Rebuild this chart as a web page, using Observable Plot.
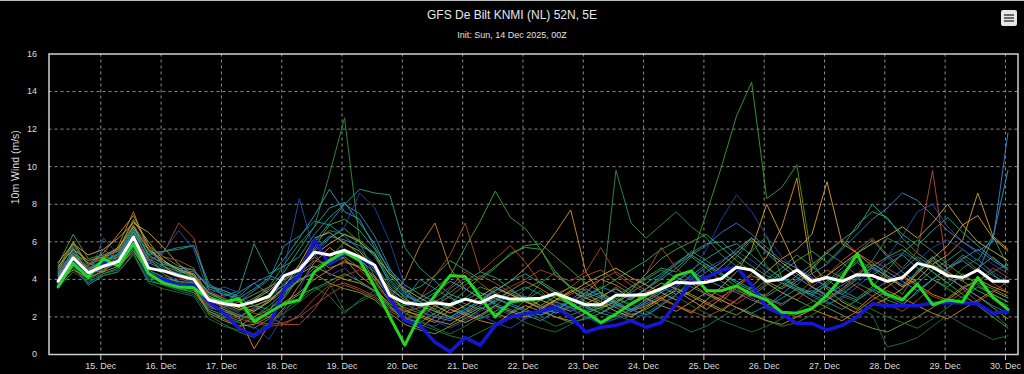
<!DOCTYPE html>
<html><head><meta charset="utf-8">
<script src="https://cdn.jsdelivr.net/npm/d3@7"></script>
<script src="https://cdn.jsdelivr.net/npm/@observablehq/plot@0.6"></script>
<style>
html,body{margin:0;padding:0;background:#000;}
#wrap{position:relative;width:1024px;height:374px;overflow:hidden;background:#000;font-family:"Liberation Sans",Arial,sans-serif;}
#topline{position:absolute;left:0;top:0;width:1024px;height:1px;background:#bbb;}
#title{position:absolute;left:0;width:1024px;top:8px;text-align:center;color:#e8e8e8;font-size:12px;line-height:14px;}
#subtitle{position:absolute;left:0;width:1024px;top:30px;text-align:center;color:#e0e0e0;font-size:9px;line-height:11px;}
#menu{position:absolute;left:1001px;top:10px;width:16px;height:16px;background:#e6e6e6;border-radius:2px;}
#menu span{position:absolute;left:3px;width:10px;height:2px;background:#6a6a6a;}
#chart{position:absolute;left:0;top:44px;}
</style></head>
<body>
<div id="wrap">
  <div id="topline"></div>
  <div id="title">GFS De Bilt KNMI (NL) 52N, 5E</div>
  <div id="subtitle">Init: Sun, 14 Dec 2025, 00Z</div>
  <div id="menu"><span style="top:4px"></span><span style="top:7px"></span><span style="top:10px"></span></div>
  <div id="chart"></div>
</div>
<script>
// ---- data ----
const initUTC = Date.UTC(2025, 11, 14, 0);
const displayOffsetHours = 1; // chart shown in CET
const leadHours = d3.range(6, 390, 6); // 6h steps, +6h .. +384h (64 steps)
const dayLabels = [15,16,17,18,19,20,21,22,23,24,25,26,27,28,29,30];
const yTicks = [0,2,4,6,8,10,12,14,16];
const yLabel = "10m Wind (m/s)";

const ensMean = [3.9,5.15,4.35,4.7,4.95,6.25,4.6,4.45,4.2,4.0, 2.9,2.7,2.6,2.8,3.1,4.2,4.5,5.45,5.3,5.55,
  5.2,4.75,3.15,2.75,2.65,2.75,2.65,2.95,2.75,3.15, 2.95,2.95,3.0,3.25,2.95,2.65,2.65,3.15,3.15,3.2,
  3.5,3.85,3.8,3.85,4.05,4.65,4.5,3.9,4.0,4.5, 3.9,4.1,3.9,4.25,4.2,3.9,4.1,4.85,4.65,4.2, 4.1,4.5,3.9,3.9];
const control = [3.6,4.85,4.1,5.1,4.7,5.9,4.3,3.8,3.6,3.55, 2.95,2.8,2.95,1.75,2.25,2.7,2.9,4.4,5.0,5.45,
  5.0,3.6,2.0,0.5,2.1,3.15,4.2,4.15,3.05,2.0, 2.8,2.9,2.95,3.25,2.7,2.25,1.7,2.15,2.7,3.15,
  3.5,4.2,4.45,3.4,3.4,3.65,3.2,2.9,2.25,2.2, 2.45,3.15,4.1,5.35,3.75,3.2,2.9,3.75,2.65,2.9, 2.8,4.1,3.05,2.4];
const operational = [3.8,4.9,4.2,4.9,4.8,6.0,4.2,4.0,3.7,3.7, 2.8,2.2,1.4,1.0,1.5,3.5,4.2,6.1,4.8,5.4,
  5.1,4.7,3.0,1.8,1.55,0.65,0.15,0.9,0.5,1.55, 2.0,2.15,2.3,2.5,2.0,1.2,1.45,1.55,1.8,1.45,
  1.7,2.7,3.9,4.1,4.5,4.65,3.7,2.5,2.15,1.65, 1.65,1.3,1.55,2.0,2.7,2.6,2.6,2.6,2.75,2.75, 2.75,2.7,2.2,2.3];

const member01 = [4.2,5.6,4.6,5.0,5.3,6.6,5.0,4.6,4.3,4.1, 3.1,2.6,2.3,2.9,3.6,4.8,5.9,6.8,9.6,12.6, 6.0,4.1,3.4,2.2,1.9,2.6,3.1,2.4,2.0,2.6, 3.2,2.9,3.4,2.6,2.1,2.4,3.0,3.6,2.9,3.5, 4.1,4.8,5.5,5.0,4.4,5.2,6.1,4.7,4.0,3.6, 3.1,3.8,4.4,5.0,4.6,3.9,3.2,4.5,5.2,4.1, 3.6,3.9,4.4,4.8];
const member02 = [3.8,4.9,4.2,4.6,4.8,6.0,4.4,4.0,3.9,3.6, 2.6,2.4,2.0,2.5,3.0,3.8,4.3,5.0,4.8,5.2, 4.6,4.0,2.8,2.5,2.2,2.9,2.5,3.0,3.6,3.3, 2.8,3.5,3.9,3.4,3.0,2.7,2.4,2.9,3.6,4.1, 4.6,4.4,5.2,7.5,10.0,12.7,14.5,8.3,8.9,10.1, 5.0,3.6,3.2,3.8,3.4,2.9,2.6,3.4,4.0,3.5, 3.0,3.6,3.2,2.8];
const member03 = [4.4,5.9,4.7,5.2,5.5,6.9,5.2,4.9,4.4,4.3, 3.3,3.0,2.5,2.0,2.6,3.3,4.0,6.0,6.6,6.4, 6.1,5.4,3.7,3.1,2.8,2.4,3.5,4.1,3.3,2.6, 2.2,2.9,3.8,4.4,3.6,3.4,2.6,9.8,7.0,6.2, 6.9,7.6,6.8,6.2,5.3,4.7,5.5,6.3,4.1,3.7, 4.5,5.4,4.9,4.2,5.0,6.2,5.8,5.1,4.4,3.8, 4.6,5.1,4.3,3.6];
const member04 = [3.7,5.0,4.0,4.5,4.9,5.8,4.1,3.9,3.5,3.4, 2.4,2.1,1.8,2.3,2.9,3.6,3.9,4.6,5.1,6.0, 5.3,3.9,2.9,2.6,3.0,3.5,4.2,5.7,7.1,8.7, 7.3,6.7,5.6,4.4,3.5,2.8,2.5,3.0,2.6,3.1, 3.6,3.2,4.0,4.7,4.2,3.6,3.3,4.0,4.6,5.3, 4.7,4.0,3.4,3.0,3.6,4.5,5.4,6.1,5.5,4.8, 4.2,3.8,3.5,3.1];
const member05 = [4.5,5.4,4.9,4.4,5.8,7.6,5.5,4.9,4.6,4.2, 2.9,2.5,2.8,3.2,3.6,4.0,4.5,5.2,4.6,4.9, 4.7,4.2,3.0,4.0,5.8,7.0,4.6,3.5,3.0,2.8, 3.4,3.9,3.5,3.0,2.7,3.3,4.0,3.7,3.2,2.9, 3.5,4.1,3.8,3.2,2.8,3.6,4.2,3.9,3.5,4.0, 4.6,5.5,6.1,5.4,4.9,4.2,3.6,4.4,5.0,4.4, 3.9,4.6,5.2,4.5];
const member06 = [4.1,5.1,4.5,4.9,5.2,6.3,5.0,5.4,7.0,6.2, 3.4,3.0,2.6,2.2,2.0,1.6,1.6,2.4,3.6,3.8, 3.5,3.1,2.4,2.0,3.0,4.2,5.3,7.0,4.4,5.1, 5.8,4.9,3.8,3.2,3.6,4.2,4.5,3.9,3.4,4.3, 5.7,4.6,3.9,3.5,3.1,2.7,3.2,3.8,3.3,2.9, 3.6,4.2,5.0,5.6,6.2,5.3,4.6,5.5,9.8,4.3, 3.5,2.8,3.3,3.9];
const member07 = [4.6,6.0,4.8,5.4,6.4,7.4,5.8,4.7,4.2,3.8, 2.7,2.3,2.0,0.3,1.6,2.5,3.7,4.9,5.7,5.1, 4.2,3.6,2.6,1.8,1.4,2.0,2.6,2.2,2.8,3.4, 3.9,4.6,5.4,6.5,7.7,4.4,3.2,2.7,2.3,2.6, 3.0,3.4,2.9,2.4,3.0,3.7,4.3,5.2,6.8,9.4, 4.3,3.5,2.8,2.4,3.1,3.6,4.2,3.7,3.2,2.9, 3.5,4.0,3.6,3.3];
const member08 = [4.3,5.5,4.4,5.1,5.6,7.1,6.0,5.0,4.5,4.3, 3.0,2.7,2.4,2.6,2.9,3.5,4.3,4.7,4.3,4.0, 3.8,3.4,2.7,2.3,2.1,1.8,1.6,2.1,2.5,2.2, 1.9,2.4,2.9,2.6,2.3,2.7,3.1,3.5,3.0,3.3, 3.8,3.5,3.1,2.7,2.3,2.9,3.6,4.4,5.1,5.6, 6.4,9.2,5.9,5.4,4.7,4.1,3.6,4.0,4.8,5.3, 6.1,8.6,6.3,5.6];
const member09 = [4.0,5.7,4.3,4.8,5.1,6.6,5.4,5.5,5.6,5.8, 3.8,3.1,3.4,5.9,4.3,4.7,5.2,6.4,7.3,8.0, 8.8,8.6,8.5,5.7,4.6,3.9,3.2,2.9,3.3,3.0, 2.6,2.3,2.1,2.5,2.9,2.6,2.2,2.0,2.4,2.9, 3.4,3.9,4.5,5.1,5.6,5.9,5.3,4.6,4.1,3.6, 3.3,3.9,4.6,5.4,6.1,5.2,4.4,3.8,4.5,5.0, 5.6,5.0,6.3,4.7];
const member10 = [4.4,5.3,4.6,4.9,5.4,6.8,5.3,4.8,4.6,4.5, 3.5,3.2,3.0,3.5,4.1,5.1,6.2,7.4,8.8,7.6, 7.2,5.7,4.5,3.7,3.2,2.8,2.4,2.2,1.9,2.3, 2.7,3.1,2.6,2.2,2.5,3.0,3.3,2.8,2.4,2.7, 3.1,3.6,4.2,4.8,4.3,3.9,3.5,3.0,2.7,3.2, 3.4,3.0,3.5,4.1,4.6,4.2,3.7,4.4,5.2,4.6, 5.0,4.4,6.2,9.8];
const member11 = [4.3,5.5,4.1,6.2,5.3,6.0,4.8,5.5,6.6,5.6, 3.2,3.6,3.3,2.6,2.1,4.6,8.3,5.4,4.2,4.6, 3.9,3.3,2.5,2.0,1.7,1.5,2.0,2.5,2.1,1.7, 1.4,1.9,2.4,2.8,2.5,2.0,1.7,1.9,2.3,2.8, 3.3,3.7,4.1,4.6,5.0,5.5,5.0,4.4,3.9,3.5, 3.1,2.7,3.0,3.6,4.3,5.2,6.3,7.6,8.0,6.8, 6.0,5.4,4.8,4.3];
const member12 = [3.9,5.0,4.0,4.6,4.8,5.9,4.4,4.2,4.0,3.9, 2.8,2.6,2.2,1.5,0.8,2.2,3.4,5.2,6.2,6.8, 8.6,7.8,6.0,3.6,2.4,1.8,1.4,1.8,2.3,2.6, 2.2,1.9,2.3,2.7,2.4,2.0,1.6,1.9,2.2,2.0, 2.6,3.4,4.3,5.6,7.2,8.5,7.6,6.3,5.2,4.5, 4.0,3.6,3.3,3.8,4.5,5.1,5.4,5.0,5.7,6.1, 5.6,5.0,4.4,3.9];
const member13 = [3.6,4.8,3.8,4.3,4.6,5.6,4.2,3.9,3.7,3.5, 2.5,2.3,2.0,2.4,2.8,3.4,3.9,4.4,5.0,5.6, 5.0,4.4,3.4,2.7,2.3,2.0,1.8,2.2,2.6,3.0, 2.7,2.4,2.1,2.4,2.8,3.3,3.0,2.6,2.3,2.8, 3.3,3.9,4.4,4.0,3.6,3.3,2.9,2.6,3.2,3.9, 4.3,4.8,5.6,6.4,7.2,7.8,8.6,8.2,7.4,6.6, 6.0,5.5,6.0,11.8];
const member14 = [4.8,6.4,5.1,5.3,5.6,7.2,5.8,5.2,4.7,4.5, 3.6,3.4,3.0,2.6,2.4,3.0,4.1,5.7,6.9,7.2, 6.6,5.6,4.2,3.3,3.6,4.2,5.0,4.5,4.0,4.6, 5.4,5.7,5.6,4.2,3.6,3.1,3.5,4.0,4.5,5.0, 5.6,6.0,5.2,4.6,3.9,3.4,3.1,3.7,4.4,5.0, 5.5,4.9,5.7,6.9,7.6,7.3,6.2,5.4,4.8,4.3, 3.9,3.4,3.0,2.6];
const member15 = [4.1,5.3,4.5,4.4,5.1,6.1,4.7,4.3,3.8,3.6, 2.3,1.9,1.5,2.0,2.4,3.2,4.0,4.3,3.8,3.5, 3.3,2.9,2.2,1.6,1.3,1.1,1.5,1.9,2.4,2.9, 3.4,3.0,2.6,3.1,3.6,3.2,2.8,2.5,2.1,2.4, 2.9,3.5,3.2,2.8,2.4,2.1,2.6,3.2,3.8,3.4, 2.9,2.5,2.1,1.7,1.4,1.2,1.6,2.0,2.5,3.0, 3.6,3.1,2.5,1.9];
const member16 = [3.7,4.7,3.7,4.2,4.4,5.4,3.9,3.7,3.5,3.3, 2.3,2.0,1.7,1.4,1.9,3.1,4.4,5.5,6.2,6.7, 6.0,5.2,3.9,3.0,2.5,2.8,3.3,3.9,4.4,4.1, 3.5,2.9,2.4,2.0,1.7,1.9,2.2,2.7,3.3,3.8, 4.3,4.9,5.4,5.9,6.0,5.3,4.7,4.2,3.8,3.5, 3.2,3.7,4.3,4.9,4.2,4.8,5.3,4.6,4.0,3.6, 4.3,3.7,3.2,2.8];
const member17 = [4.9,5.9,5.3,5.6,6.2,7.0,6.5,5.7,4.8,4.2, 3.3,2.9,2.6,2.3,2.8,3.6,4.8,6.2,6.5,5.9, 5.5,4.5,3.5,2.9,2.6,2.3,2.0,1.7,2.1,2.6, 2.3,2.0,2.4,2.9,3.4,3.0,2.7,2.3,2.0,2.5, 3.0,2.6,2.2,2.9,3.6,4.4,5.6,8.0,6.3,4.6, 3.6,3.1,2.6,2.2,2.6,3.0,3.5,4.3,5.1,5.8, 6.9,7.4,6.2,5.5];
const member18 = [4.0,5.2,4.6,4.5,5.3,6.5,5.1,4.4,4.1,3.7, 2.6,2.2,1.9,1.7,1.5,1.6,2.1,3.0,3.7,4.2, 4.5,3.8,2.8,2.3,2.5,3.0,3.6,4.4,3.8,3.2, 3.6,4.0,4.5,4.2,3.9,4.4,5.7,4.3,3.7,3.3, 2.9,2.6,2.3,2.7,3.1,3.5,3.0,2.6,2.3,2.0, 2.4,2.9,3.5,4.3,5.0,4.6,4.1,3.6,3.1,2.8, 3.3,3.9,4.6,4.1];
const member19 = [4.2,5.1,4.4,5.6,5.0,6.4,5.6,4.9,4.5,4.4, 3.7,3.4,3.1,3.8,4.2,3.9,4.6,6.0,7.0,8.0, 7.5,6.3,4.6,3.3,2.6,2.1,1.9,2.3,2.9,3.5, 3.2,2.8,2.5,2.2,2.6,3.1,3.6,3.3,2.9,3.5, 4.2,4.8,5.3,5.8,6.5,7.0,6.4,5.7,5.0,4.6, 4.1,3.6,3.2,2.9,3.4,3.9,4.5,5.2,4.7,4.1, 3.6,3.1,2.6,2.2];
const member20 = [3.8,4.6,4.0,4.3,4.5,5.7,4.0,3.7,3.4,3.2, 2.1,1.6,1.2,0.9,1.5,2.4,2.9,3.6,3.1,2.2, 2.9,3.4,2.6,2.0,1.6,1.3,1.0,0.8,1.2,1.6, 2.0,2.3,1.9,1.5,1.8,2.2,2.6,3.0,2.7,2.3, 1.9,1.6,1.2,1.5,2.0,2.5,2.2,1.8,1.5,1.7, 2.1,2.6,3.1,2.8,2.4,2.0,1.7,1.4,1.9,2.5, 3.1,2.7,2.2,1.5];
const member21 = [4.5,5.8,4.8,5.1,5.3,6.7,5.3,5.5,5.7,5.8, 3.6,3.3,2.8,3.4,4.0,5.8,6.3,7.1,6.9,6.3, 5.6,4.8,3.6,2.9,4.0,3.5,3.0,2.7,2.4,2.8, 3.2,3.6,3.2,2.8,2.5,2.3,2.7,3.1,3.6,4.0, 4.5,4.1,3.6,3.2,2.9,2.5,2.2,2.6,3.0,3.5, 3.2,2.8,2.4,2.9,3.5,3.1,2.7,3.3,4.0,4.6, 5.3,4.8,4.2,3.8];
const member22 = [4.0,4.9,4.2,4.8,5.0,6.1,4.5,4.1,3.9,3.8, 2.7,2.4,2.1,1.9,2.2,2.7,3.2,3.5,3.9,4.3, 3.9,3.4,2.5,1.9,1.7,2.2,2.7,3.4,4.1,4.7, 5.3,5.8,5.9,5.2,4.5,3.8,3.3,2.8,3.4,4.3, 5.1,5.6,6.0,6.4,5.7,5.0,4.4,3.8,3.3,2.9, 2.5,2.9,3.4,4.0,4.7,5.2,5.6,5.0,4.4,3.8, 3.2,2.6,2.0,1.4];
const member23 = [3.9,4.5,4.1,4.4,4.7,5.5,4.3,3.9,3.7,3.5, 2.2,1.8,1.5,1.6,2.0,2.8,3.3,4.0,4.5,5.0, 4.6,4.1,3.1,2.4,2.0,1.7,2.4,2.1,1.8,1.6, 2.2,2.6,2.3,2.0,1.8,2.2,2.5,2.8,3.2,3.0, 2.6,2.3,2.8,3.3,2.9,2.5,2.1,1.8,1.6,2.0, 2.4,2.1,1.8,2.3,2.9,3.4,3.0,2.6,2.2,1.9, 2.4,2.9,3.4,3.0];
const member24 = [4.3,5.2,4.2,4.8,5.0,6.2,4.9,4.5,4.3,4.0, 3.0,2.7,3.3,3.8,3.2,3.7,4.5,5.6,6.3,6.1, 5.8,5.4,4.0,3.2,2.8,3.3,3.9,3.5,3.0,2.7, 2.4,2.1,1.8,2.3,2.9,3.5,3.1,2.7,2.4,2.1, 2.6,3.2,3.8,4.4,4.9,5.6,6.2,5.4,4.7,4.1, 3.6,3.2,3.7,4.2,4.8,4.4,3.9,3.4,4.0,4.6, 5.1,5.6,5.0,4.5];
const member25 = [3.6,4.4,3.9,4.2,4.4,5.3,3.8,3.5,3.3,3.1, 1.9,1.5,1.3,1.1,1.7,2.2,2.8,3.4,3.8,2.3, 2.8,3.2,2.7,2.2,1.8,1.4,1.1,1.5,2.0,2.5, 2.1,1.7,1.4,1.2,1.6,2.0,2.4,2.1,1.8,2.2, 2.7,3.1,2.6,2.2,1.8,1.5,1.2,1.5,1.9,2.3, 2.8,3.3,2.9,2.5,2.1,0.4,0.6,0.9,1.5,2.1, 1.6,1.2,0.8,1.0];
const member26 = [4.7,5.6,5.0,5.2,5.7,6.8,5.6,5.0,4.5,4.1, 3.1,2.8,2.5,2.9,3.4,4.1,4.7,5.3,5.9,6.4, 6.0,5.3,4.3,3.5,3.0,2.6,2.2,2.6,3.1,3.6, 3.2,2.8,2.5,2.9,3.3,3.8,4.2,4.6,4.1,3.7, 3.3,2.9,3.4,4.0,4.7,5.4,6.2,5.5,4.9,4.3, 3.8,4.2,4.8,5.4,5.9,6.3,6.8,6.2,7.0,8.0, 6.9,6.0,5.5,5.0];
const member27 = [4.2,5.4,4.5,5.0,5.2,6.5,5.1,4.7,4.4,4.2, 3.2,2.9,2.6,3.0,3.5,4.4,5.6,6.8,7.8,8.1, 7.0,5.9,4.4,3.4,2.8,2.4,2.0,2.4,2.9,3.4, 3.9,4.3,3.8,3.3,2.9,2.5,2.2,2.6,3.0,3.5, 4.0,4.6,5.3,4.8,4.3,3.8,3.4,3.1,3.6,4.2, 4.8,5.4,6.1,6.7,8.0,7.2,6.4,5.8,6.6,7.3, 6.5,5.8,5.1,4.6];
const member28 = [4.4,5.0,4.7,5.3,5.5,6.9,5.7,5.2,5.0,4.6, 3.0,2.5,2.1,1.8,1.6,1.7,2.0,2.6,3.2,3.7, 3.4,3.0,2.3,1.9,2.1,2.6,3.1,3.7,4.2,3.8, 3.3,2.9,2.5,2.8,3.2,3.6,4.0,4.4,3.9,3.4, 3.0,2.6,2.3,2.0,2.4,2.9,3.4,3.0,2.6,3.2, 3.9,4.5,4.1,3.6,3.1,2.7,2.3,2.9,3.6,4.4, 5.2,4.5,3.8,3.3];

const members = [member01,member02,member03,member04,member05,member06,member07,member08,member09,member10,
  member11,member12,member13,member14,member15,member16,member17,member18,member19,member20,
  member21,member22,member23,member24,member25,member26,member27,member28];
const memberColors = ["#2e8b3a","#3a9a2a","#2a8a4a","#3c9c3c","#c0782a","#b0482a","#d08c28","#c89a30","#1f9a8a","#2a9ab8",
  "#2a4aa8","#2040a0","#3a80c0","#3aa048","#7a9a2a","#2a9a78","#d0a030","#a84030","#3a78b8","#1e7a3a",
  "#1a9090","#40a040","#c88028","#2a90c8","#1a6e3a","#c8a838","#20a090","#a0502a"];

// ---- build tables ----
const times = leadHours.map(h => new Date(initUTC + (h + displayOffsetHours) * 3600e3));
const series = (arr) => times.map((t, i) => ({t, v: arr[i]}));
const memberRows = members.flatMap((arr, m) => times.map((t, i) => ({t, v: arr[i], m, c: memberColors[m]})));
const dayTicks = dayLabels.map(d => new Date(Date.UTC(2025, 11, d)));
const xDomain = [new Date(Date.UTC(2025, 11, 14, 3, 23)), new Date(Date.UTC(2025, 11, 30, 5, 0))];
const font = '"Liberation Sans", Arial, sans-serif';

const chart = Plot.plot({
  width: 1024, height: 330,
  marginLeft: 48.5, marginRight: 6.5, marginTop: 9.5, marginBottom: 20,
  style: {background: "#000", color: "#dcdcdc", fontFamily: font, fontSize: "9px", overflow: "visible"},
  x: {type: "utc", domain: xDomain},
  y: {domain: [0, 16]},
  marks: [
    Plot.gridX(dayTicks, {stroke: "#8c8c8c", strokeOpacity: 1, strokeDasharray: "3,3", strokeWidth: 1}),
    Plot.gridY(yTicks.filter(v => v > 0 && v < 16), {stroke: "#8c8c8c", strokeOpacity: 1, strokeDasharray: "3,3", strokeWidth: 1}),
    Plot.line(memberRows, {x: "t", y: "v", z: "m", stroke: "c", strokeWidth: 1, strokeOpacity: 0.95}),
    Plot.line(series(operational), {x: "t", y: "v", stroke: "#1616d6", strokeWidth: 3.5}),
    Plot.line(series(control), {x: "t", y: "v", stroke: "#22d622", strokeWidth: 3}),
    Plot.line(series(ensMean), {x: "t", y: "v", stroke: "#ffffff", strokeWidth: 3}),
    Plot.frame({stroke: "#cfcfcf", strokeWidth: 1.5}),
    Plot.axisX(dayTicks, {tickFormat: d => `${d.getUTCDate()}. Dec`, tickSize: 6, tickPadding: 2, stroke: "#cfcfcf", label: null}),
    Plot.axisY(yTicks, {tickSize: 0, tickPadding: 12, label: null}),
    Plot.text([yLabel], {frameAnchor: "left", rotate: -90, dx: -33.5, fontSize: 10.5, fill: "#dcdcdc"})
  ]
});
document.getElementById("chart").appendChild(chart);
</script>
</body></html>
